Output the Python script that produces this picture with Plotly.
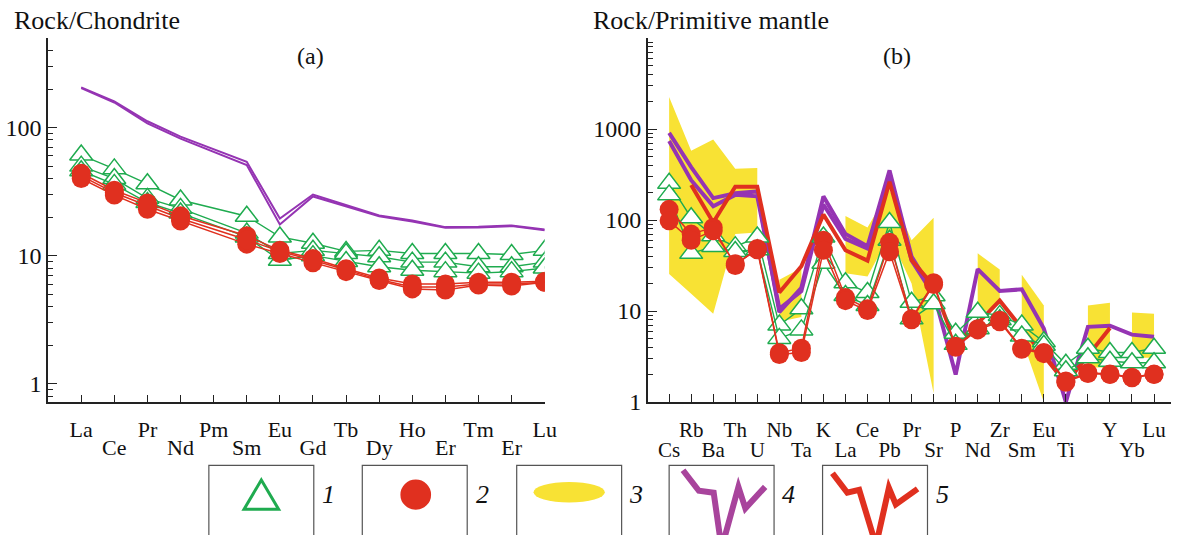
import math
import plotly.graph_objects as go

W, H = 1183, 535
SERIF = "Liberation Serif"
GREEN = "#1fab4f"
RED = "#e0301f"
PURPLE = "#9534b3"
MAGENTA = "#a8449c"
YELLOW = "#f8e234"
AX = "#222222"

# ---------------- panel (a): chondrite-normalised REE ----------------
ree_a = ["La", "Ce", "Pr", "Nd", "Pm", "Sm", "Eu", "Gd", "Tb", "Dy", "Ho", "Er", "Tm", "Er", "Lu"]
ree_a_upper = [0, 2, 4, 6, 8, 10, 12, 14]
ree_a_lower = [1, 3, 5, 7, 9, 11, 13]

green_a1 = [61, 47.6, 36.4, 27.2, None, 20.3, 14.0, 12.5, 10.8, 11.0, 10.4, 10.4, 10.4, 10.2, 11.0]
green_a2 = [50, 40, 28, 23.4, None, 15.0, 10.4, 11.0, 10.4, 9.8, 8.9, 8.9, 8.2, 8.2, 8.9]
green_a3 = [46, 36, 26, 21.5, None, 14.0, 9.2, 10.0, 9.0, 8.2, 7.7, 7.5, 7.3, 7.5, 8.0]
red_a1 = [44, 32.4, 25.8, 20.5, None, 14.3, 11.0, 9.5, 7.9, 6.7, 6.0, 6.0, 6.2, 6.2, 6.3]
red_a2 = [40, 29.7, 23.0, 18.6, None, 12.3, 10.4, 8.8, 7.5, 6.4, 5.5, 5.4, 5.9, 5.8, 6.2]
red_a3 = [42, 31, 24.5, 19.5, None, 13.3, 10.8, 9.2, 7.7, 6.5, 5.7, 5.7, 6.0, 6.0, 6.2]
purple_a1 = [206, 160, 112, 85, None, 54, 19.5, 30, 24.8, 20.6, 18.8, 16.7, 16.8, 17.2, 16.0]
purple_a2 = [203, 157, 108, 82, None, 51, 17.5, 29, 24.3, 20.3, 18.5, 16.5, 16.6, 17.0, 15.8]

# ---------------- panel (b): primitive-mantle-normalised spider ----------------
el_b = ["Cs", "Rb", "Ba", "Th", "U", "Nb", "Ta", "K", "La", "Ce", "Pb", "Pr", "Sr", "P",
        "Nd", "Zr", "Sm", "Eu", "Ti", "", "Y", "Yb", "Lu"]
el_b_upper = [1, 3, 5, 7, 9, 11, 13, 15, 17, 20, 22]
el_b_lower = [0, 2, 4, 6, 8, 10, 12, 14, 16, 18, 21]

band_hi = [2245, 577, 769, 366, 372, 22, 29.6, None, 111, 83, 215, 60, 106, None,
           43, 28.5, 25, 11.5, None, 11.5, 12.3, 9.6, 9.3]
band_lo = [25.5, 15.5, 9.3, 70, 73, 7.6, 8.6, None, 26, 24, 67, 20, 1.24, None,
           9, 12, 5.0, 1.0, None, 2.4, 2.4, 3.06, 3.06]
band_groups = [(0, 4), (5, 6), (8, 12), (14, 15), (16, 17), (19, 20), (21, 22)]

purple_b1 = [906, 382, 174, 197, 206, 9.7, 18, 182, 70.4, 51.4, 351, 39.6, 16, 2.0,
             28.9, 16.6, 17.3, 6.4, 1.0, 6.7, 6.9, 5.5, 5.2]
purple_b2 = [738, 274, 142, 189, 182, 10.6, 16.5, 148, 62, 48.6, 298, 36, 15, None,
             None, None, None, None, None, None, None, None, None]
redline_b = [None, 243, 94, 232, 232, 16, 31, 115, 46.6, 35.8, 263, 36.4, 18.8, 4.3,
             7.3, 13, 6.4, 3.2, 1.6, None, 6.5, None, None]
green_b1 = [253, 106, 67, 51, 65, 7.0, 10.6, 65, 20.4, 16, 94, 12.5, 14.7, 5.7,
            9.7, 8.95, 7.0, 4.6, 2.6, 3.9, 3.5, 3.5, 3.9]
green_b2 = [189, 43, 51, 45, 47, 5.0, 6.2, 33.5, 14.8, 11.5, 60, 8.2, 12, 4.3,
            6.4, 8.0, 5.3, 4.2, 2.2, 3.06, 2.8, 2.7, 2.7]
red_b1 = [131, 70, 83, 31.7, 48.6, 3.47, 3.9, 60, 14.1, 10.6, 57, 8.2, 20.4, 4.1,
          6.4, 7.9, 3.9, 3.5, 1.7, 2.1, 2.03, 1.87, 2.03]
red_b2 = [98, 60, 76, 33, 47, 3.33, 3.5, 46.6, 13, 10.1, 44.8, 8.0, 19.5, 4.0,
          6.2, 7.6, 3.8, 3.4, 1.65, 2.05, 2.0, 1.85, 2.0]

legend_numbers = ["1", "2", "3", "4", "5"]


def px(x):
    return x / W


def py(y):
    return 1 - y / H


fig = go.Figure()

xa = list(range(len(ree_a)))
xb = list(range(len(el_b)))

# panel a traces
for ys in (purple_a1, purple_a2):
    fig.add_trace(go.Scatter(x=xa, y=ys, mode="lines", connectgaps=True,
                             line=dict(color=PURPLE, width=2), xaxis="x", yaxis="y"))
for ys in (green_a1, green_a2, green_a3):
    fig.add_trace(go.Scatter(x=xa, y=ys, mode="lines+markers", connectgaps=True,
                             line=dict(color=GREEN, width=1.4),
                             marker=dict(symbol="triangle-up", size=20, color="white",
                                         line=dict(color=GREEN, width=1.5)),
                             xaxis="x", yaxis="y"))
for ys, xax in ((red_a1, "x"), (red_a2, "x"), (red_a3, "x3")):
    fig.add_trace(go.Scatter(x=xa, y=ys, mode="lines+markers", connectgaps=True,
                             line=dict(color=RED, width=1.5),
                             marker=dict(symbol="circle", size=19, color=RED),
                             xaxis=xax, yaxis="y"))

# panel b: yellow field
for i0, i1 in band_groups:
    xs = list(range(i0, i1 + 1)) + list(range(i1, i0 - 1, -1))
    ys = band_hi[i0:i1 + 1] + band_lo[i0:i1 + 1][::-1]
    fig.add_trace(go.Scatter(x=xs, y=ys, mode="lines", fill="toself", fillcolor=YELLOW,
                             line=dict(width=0, color=YELLOW), xaxis="x2", yaxis="y2"))

for ys in (purple_b1, purple_b2):
    fig.add_trace(go.Scatter(x=xb, y=ys, mode="lines", line=dict(color=PURPLE, width=4),
                             xaxis="x2", yaxis="y2"))
fig.add_trace(go.Scatter(x=xb, y=redline_b, mode="lines", connectgaps=True,
                         line=dict(color=RED, width=4), xaxis="x2", yaxis="y2"))
for ys in (green_b1, green_b2):
    fig.add_trace(go.Scatter(x=xb, y=ys, mode="lines+markers",
                             line=dict(color=GREEN, width=1.4),
                             marker=dict(symbol="triangle-up", size=20, color="white",
                                         line=dict(color=GREEN, width=1.5)),
                             xaxis="x2", yaxis="y2"))
for ys, xax in ((red_b1, "x2"), (red_b2, "x4")):
    fig.add_trace(go.Scatter(x=xb, y=ys, mode="lines+markers",
                             line=dict(color=RED, width=1.5),
                             marker=dict(symbol="circle", size=19, color=RED),
                             xaxis=xax, yaxis="y2"))

tickfont_a = dict(family=SERIF, size=22, color="#111")
tickfont_b = dict(family=SERIF, size=21, color="#111")
yfont = dict(family=SERIF, size=24, color="#111")

common_x = dict(showgrid=False, zeroline=False, tickmode="array", tickangle=0)

dom_a = [px(48.6), px(550.3)]
dom_b = [px(654.5), 1.0]
ydom = [py(412), py(39)]

minor_a = sorted(set([0.8, 0.9] + list(range(2, 10)) + list(range(20, 100, 10)) + [200, 300, 400, 500]))
minor_b = sorted(set([k * 10 ** d for d in range(0, 4) for k in range(2, 10)] + [10000]))

fig.update_layout(
    width=W, height=H, autosize=False, margin=dict(l=0, r=0, t=0, b=0, pad=0),
    paper_bgcolor="white", plot_bgcolor="rgba(0,0,0,0)", showlegend=False,
    font=dict(family=SERIF),
    xaxis=dict(domain=dom_a, range=[-1, 14], anchor="y", showline=True, linecolor=AX,
               linewidth=1.5, ticks="inside", ticklen=7, tickcolor=AX, tickwidth=1.2,
               tickvals=xa, ticktext=[ree_a[i] if i in ree_a_upper else "" for i in xa],
               tickfont=tickfont_a, ticklabelstandoff=7, **common_x),
    xaxis3=dict(overlaying="x", range=[-1, 14], anchor="y", showline=False, ticks="",
                tickvals=ree_a_lower, ticktext=[ree_a[i] for i in ree_a_lower],
                tickfont=tickfont_a, ticklabelstandoff=30, **common_x),
    yaxis=dict(type="log", domain=ydom, range=[math.log10(0.72), math.log10(500)],
               anchor="x", showline=True, linecolor=AX, linewidth=1.5, ticks="inside",
               ticklen=9, tickcolor=AX, tickwidth=1.2, tickmode="array",
               tickvals=[1, 10, 100], ticktext=["1", "10", "100"], tickfont=yfont,
               minor=dict(tickmode="array", tickvals=minor_a, ticks="inside", ticklen=5,
                          tickcolor=AX, tickwidth=1.2, showgrid=False),
               showgrid=False, zeroline=False),
    xaxis2=dict(domain=dom_b, range=[-0.965, 22.77], anchor="y2", showline=True,
                linecolor=AX, linewidth=1.5, ticks="inside", ticklen=8, tickcolor=AX,
                tickwidth=1.2, tickvals=xb,
                ticktext=[el_b[i] if i in el_b_upper else "" for i in xb],
                tickfont=tickfont_b, ticklabelstandoff=8, **common_x),
    xaxis4=dict(overlaying="x2", range=[-0.965, 22.77], anchor="y2", showline=False,
                ticks="", tickvals=el_b_lower, ticktext=[el_b[i] for i in el_b_lower],
                tickfont=tickfont_b, ticklabelstandoff=33, **common_x),
    yaxis2=dict(type="log", domain=ydom, range=[0, 4], anchor="x2", showline=True,
                linecolor=AX, linewidth=1.5, ticks="inside", ticklen=9, tickcolor=AX,
                tickwidth=1.2, tickmode="array", tickvals=[1, 10, 100, 1000],
                ticktext=["1", "10", "100", "1000"], tickfont=yfont,
                minor=dict(tickmode="array", tickvals=minor_b, ticks="inside", ticklen=5,
                           tickcolor=AX, tickwidth=1.2, showgrid=False),
                showgrid=False, zeroline=False),
)

ann = [
    dict(text="Rock/Chondrite", x=px(12), y=py(21), xanchor="left", yanchor="middle", size=26),
    dict(text="Rock/Primitive mantle", x=px(597), y=py(21), xanchor="left", yanchor="middle", size=26),
    dict(text="(a)", x=px(314), y=py(57), xanchor="center", yanchor="middle", size=24),
    dict(text="(b)", x=px(906), y=py(57), xanchor="center", yanchor="middle", size=24),
]
for a in ann:
    size = a.pop("size")
    fig.add_annotation(xref="paper", yref="paper", showarrow=False,
                       font=dict(family=SERIF, size=size, color="#111"), **a)

# legend boxes
box_left = [211, 366, 522, 676, 831]
for k, x0 in enumerate(box_left):
    fig.add_shape(type="rect", xref="paper", yref="paper", x0=px(x0), x1=px(x0 + 106),
                  y0=py(477), y1=py(560), line=dict(color="#555", width=1.2),
                  fillcolor="white", layer="above")
    fig.add_annotation(xref="paper", yref="paper", showarrow=False,
                       x=px(x0 + 121), y=py(507), xanchor="center", yanchor="middle",
                       text="<i>" + legend_numbers[k] + "</i>",
                       font=dict(family=SERIF, size=26, color="#111"))


def path(pts):
    return "M " + " L ".join(f"{px(x):.5f},{py(y):.5f}" for x, y in pts)


fig.add_shape(type="path", xref="paper", yref="paper", layer="above",
              path=path([(264, 492), (281.5, 522), (246.5, 522)]) + " Z",
              line=dict(color=GREEN, width=3), fillcolor="white")
fig.add_shape(type="circle", xref="paper", yref="paper", layer="above",
              x0=px(404.5), x1=px(435.5), y0=py(491.5), y1=py(522.5),
              line=dict(width=0), fillcolor=RED)
fig.add_shape(type="circle", xref="paper", yref="paper", layer="above",
              x0=px(539), x1=px(611), y0=py(494), y1=py(515),
              line=dict(width=0), fillcolor=YELLOW)
fig.add_shape(type="path", xref="paper", yref="paper", layer="above",
              path=path([(690, 482), (706, 503), (721, 505), (729, 562), (746, 499),
                         (753, 521), (773, 499)]),
              line=dict(color=MAGENTA, width=6))
fig.add_shape(type="path", xref="paper", yref="paper", layer="above",
              path=path([(841, 485), (856, 505), (868, 502), (885, 559), (898, 500),
                         (905, 517), (927, 501)]),
              line=dict(color=RED, width=6))

fig.write_html("out.html",
               post_script="document.body.style.margin='0';document.body.style.overflow='hidden';")
